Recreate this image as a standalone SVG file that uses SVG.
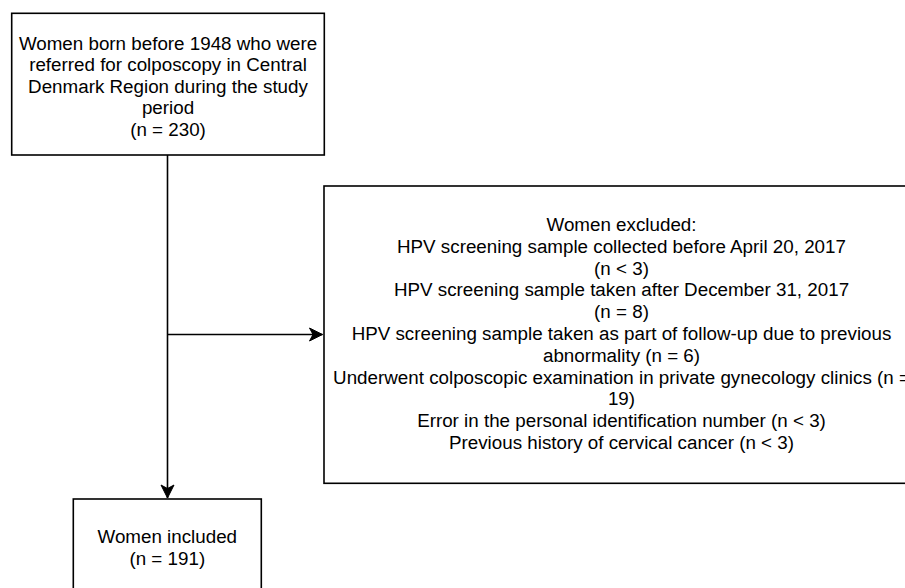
<svg xmlns="http://www.w3.org/2000/svg" width="905" height="588" viewBox="0 0 905 588">
<style>
.box{fill:#ffffff;stroke:#000000;stroke-width:1.6}
.lbl{font-family:"Liberation Sans",Arial,Helvetica,sans-serif;font-size:18.8px;fill:#000000;text-anchor:middle}
.edge{fill:none;stroke:#000000;stroke-width:1.6}
</style>
<defs>
<marker id="arrow" markerUnits="userSpaceOnUse" markerWidth="14" markerHeight="14" refX="13" refY="6.5" orient="auto" overflow="visible">
<path d="M0,0 L13,6.5 L0,13 L3.5,6.5 Z" fill="#000000" stroke="#000000" stroke-width="1"/>
</marker>
</defs>
<rect width="905" height="588" fill="#ffffff"/>
<g id="connectors">
<path class="edge" d="M167.5,155 L167.5,498" marker-end="url(#arrow)"/>
<path class="edge" d="M167.5,334.5 L322.5,334.5" marker-end="url(#arrow)"/>
</g>
<g id="node-start">
<rect class="box" x="11.7" y="13.3" width="312.6" height="141.7"/>
<text class="lbl" x="168" y="49.5">Women born before 1948 who were</text>
<text class="lbl" x="168" y="71">referred for colposcopy in Central</text>
<text class="lbl" x="168" y="92.5">Denmark Region during the study</text>
<text class="lbl" x="168" y="114">period</text>
<text class="lbl" x="168" y="135.5">(n = 230)</text>
</g>
<g id="node-excluded">
<rect class="box" x="324" y="186" width="595" height="297.3"/>
<text class="lbl" x="621.5" y="231">Women excluded:</text>
<text class="lbl" x="621.5" y="252.8">HPV screening sample collected before April 20, 2017</text>
<text class="lbl" x="621.5" y="274.6">(n &lt; 3)</text>
<text class="lbl" x="621.5" y="296.4">HPV screening sample taken after December 31, 2017</text>
<text class="lbl" x="621.5" y="318.2">(n = 8)</text>
<text class="lbl" x="621.5" y="340">HPV screening sample taken as part of follow-up due to previous</text>
<text class="lbl" x="621.5" y="361.8">abnormality (n = 6)</text>
<text class="lbl" x="621.5" y="383.6">Underwent colposcopic examination in private gynecology clinics (n =</text>
<text class="lbl" x="621.5" y="405.4">19)</text>
<text class="lbl" x="621.5" y="427.2">Error in the personal identification number (n &lt; 3)</text>
<text class="lbl" x="621.5" y="449">Previous history of cervical cancer (n &lt; 3)</text>
</g>
<g id="node-included">
<rect class="box" x="73.3" y="499" width="188" height="94"/>
<text class="lbl" x="167.3" y="543">Women included</text>
<text class="lbl" x="167.3" y="564.5">(n = 191)</text>
</g>
</svg>
